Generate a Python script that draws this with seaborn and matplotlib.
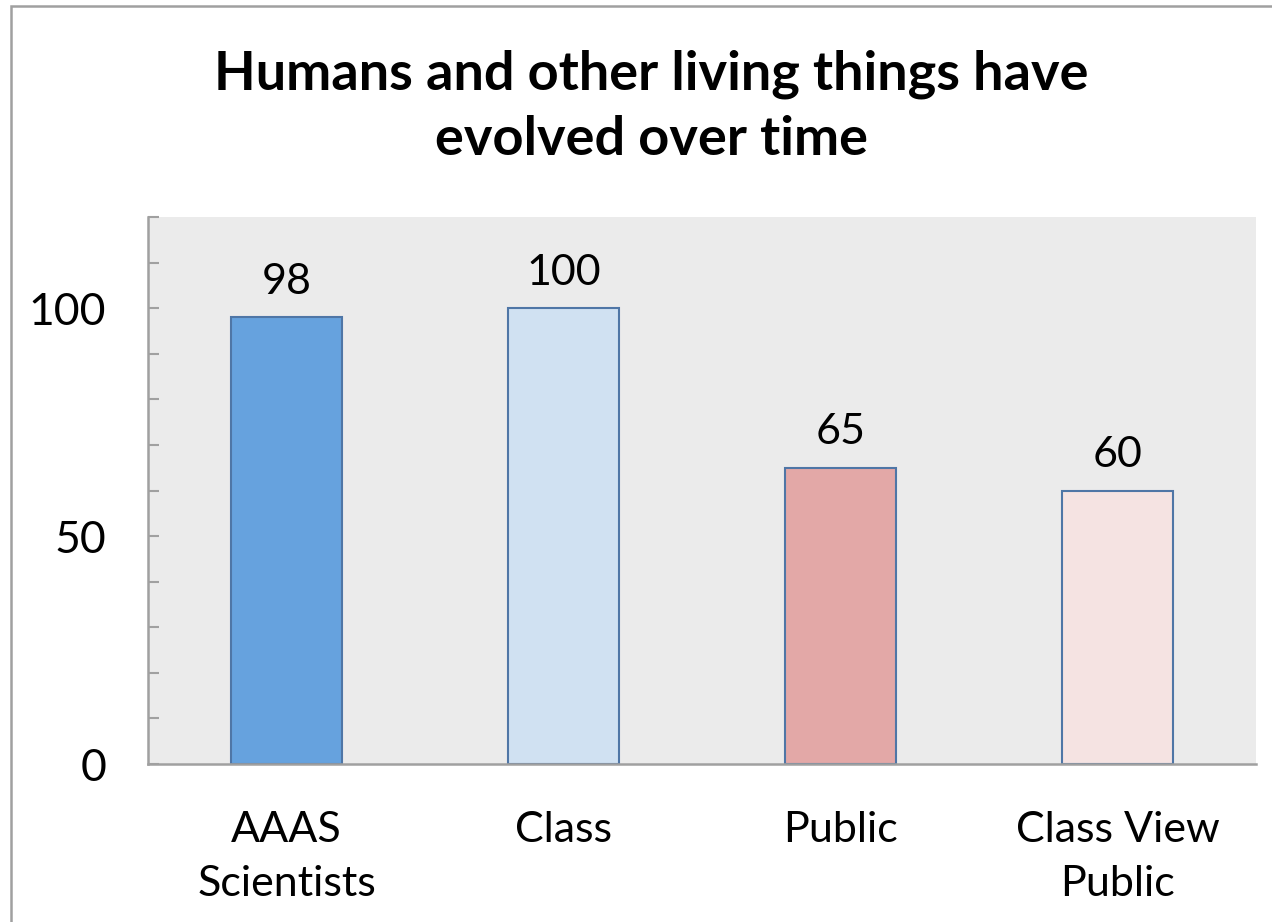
import numpy as np
import matplotlib
matplotlib.use('Agg')
import matplotlib.pyplot as plt
import seaborn as sns
from matplotlib.patches import Rectangle
from matplotlib.ticker import MultipleLocator

# данные
groups = ['AAAS\nScientists', 'Class', 'Public', 'Class View\nPublic']
percent = [98, 100, 65, 60]
bar_colors = ['#66A2DE', '#D0E1F2', '#E3A8A7', '#F5E3E2']

sns.set_style('white')
plt.rcParams['font.family'] = ['Lato', 'DejaVu Sans']
plt.rcParams['text.color'] = 'black'
plt.rcParams['xtick.color'] = 'black'
plt.rcParams['ytick.color'] = 'black'

fig = plt.figure(figsize=(12.72, 9.22), dpi=100)
ax = fig.add_axes([148 / 1272, 1 - 764 / 922, 1108 / 1272, 547 / 922])

sns.barplot(x=groups, y=percent, hue=groups, palette=bar_colors, legend=False,
            width=0.404, edgecolor='#4F76A6', linewidth=1.5, saturation=1, ax=ax)

ax.set_facecolor('#EBEBEB')
ax.set_xlim(-0.5, 3.5)
ax.set_ylim(0, 120)

# подписи значений
for i, v in enumerate(percent):
    ax.annotate(str(v), (i, v), xytext=(0, 12), textcoords='offset points',
                ha='center', va='bottom', fontsize=31, color='black')

for side in ['top', 'right']:
    ax.spines[side].set_visible(False)
for side in ['left', 'bottom']:
    ax.spines[side].set_color('#A0A0A0')
    ax.spines[side].set_linewidth(1.8)

ax.yaxis.set_major_locator(MultipleLocator(50))
ax.yaxis.set_minor_locator(MultipleLocator(10))
ax.tick_params(axis='y', which='both', direction='in', length=8, width=1.5,
               color='#A0A0A0', left=True)
ax.tick_params(axis='y', which='major', labelsize=32, pad=30, labelcolor='black')
ax.tick_params(axis='x', length=0, labelsize=31, pad=34, labelcolor='black')
for lbl in ax.get_xticklabels():
    lbl.set_linespacing(1.5)
ax.set_xlabel('')
ax.set_ylabel('')

fig.text(0.512, 1 - 107 / 922, 'Humans and other living things have\nevolved over time',
         ha='center', va='center', fontsize=39, fontweight='bold', linespacing=1.4,
         color='black')

# рамка вокруг рисунка
fig.patches.append(Rectangle((11 / 1272, -0.1), 1.2, 1.1 - 6 / 922, transform=fig.transFigure,
                             fill=False, edgecolor='#A0A0A0', linewidth=1.8))

fig.savefig('out.png', dpi=100)
